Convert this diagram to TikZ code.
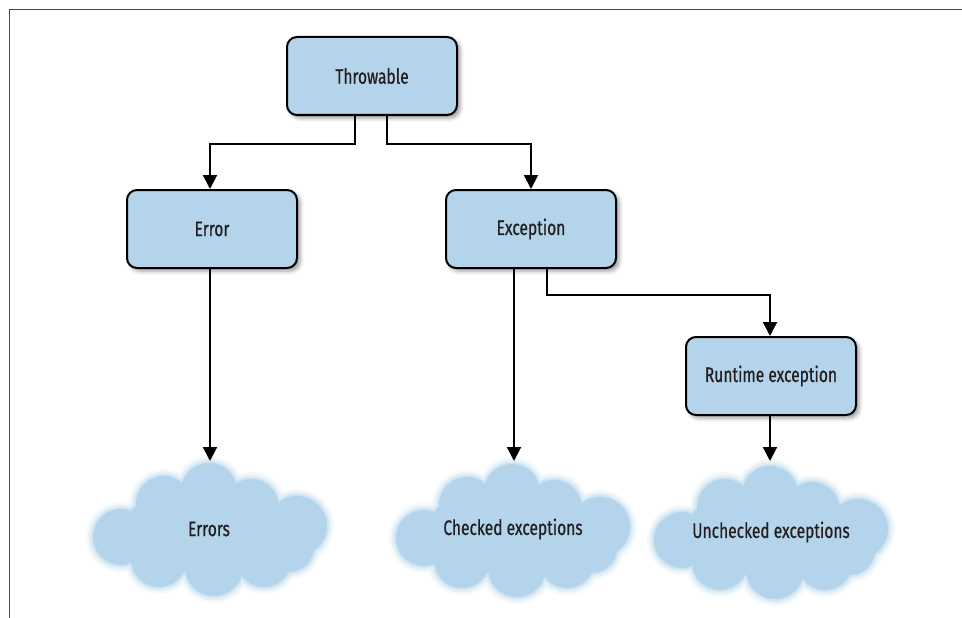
\documentclass[tikz,border=0pt]{standalone}
\usepackage{fontspec}
\setmainfont{Fira Sans}[FakeStretch=0.74, FakeBold=0.6]
\usetikzlibrary{arrows.meta,shadows.blur}

\definecolor{boxblue}{HTML}{B3D4EA}
\definecolor{inkdark}{HTML}{231F20}
\definecolor{framegray}{HTML}{4A4A4A}

% Cloud outline built from overlapping discs, centred on the current origin
\newcommand\cloudblobs{%
  (0,-38) circle (28)
  (-45,-25) circle (28)
  (42,-22) circle (28)
  (-88,8) circle (28)
  (88,-3) circle (30)
  (80,18) circle (25)
  (-50,30) circle (28)
  (5,38) circle (29)
  (55,30) circle (28)
  (0,0) ellipse (85 and 45)}

% Soft-edged cloud: faint halos, then the solid body
\newcommand\softcloud[1]{%
  \begin{scope}[shift={(#1)}]
    \foreach \w/\o in {14/0.15, 9/0.25, 4/0.4}{
      \begin{scope}[transparency group, opacity=\o]
        \filldraw[boxblue, line width=\w pt] \cloudblobs;
      \end{scope}
    }
    \fill[boxblue] \cloudblobs;
  \end{scope}}

\tikzset{
  box/.style={draw=black, line width=2pt, fill=boxblue, rounded corners=10pt,
    minimum width=170pt, minimum height=78pt, text=inkdark,
    font=\fontsize{21}{24}\selectfont,
    blur shadow={shadow xshift=3pt, shadow yshift=-3pt, shadow blur radius=4pt}},
  cloudtext/.style={text=inkdark, font=\fontsize{21}{24}\selectfont},
  link/.style={line width=2pt, draw=black},
  arrowlink/.style={link, -{Triangle[length=14pt,width=14pt]}}
}

\begin{document}
\begin{tikzpicture}[x=1pt, y=-1pt]
  \useasboundingbox (0,0) rectangle (962,618);

  % page frame
  \draw[framegray, line width=1.5pt] (962,9.5) -- (9.5,9.5) -- (9.5,618);

  % clouds
  \softcloud{209,529}
  \softcloud{512,530}
  \softcloud{770,532}
  \node[cloudtext] (errors) at (209,529) {Errors};
  \node[cloudtext] (checked) at (513,529) {Checked exceptions};
  \node[cloudtext] (unchecked) at (771,532) {Unchecked exceptions};
  \coordinate (errorsTop) at (210,461);
  \coordinate (checkedTop) at (514,461);
  \coordinate (uncheckedTop) at (770,461);

  % boxes
  \node[box] (throwable) at (372,76) {Throwable};
  \node[box] (error) at (212,229) {Error};
  \node[box] (exception) at (531,229) {Exception};
  \node[box] (runtime) at (771,376) {Runtime exception};

  % connectors
  \draw[arrowlink] ([xshift=-17pt]throwable.south) -- ++(0,28) -| ([xshift=-2pt]error.north);
  \draw[arrowlink] ([xshift=15pt]throwable.south) -- ++(0,28) -| (exception.north);
  \draw[arrowlink] ([xshift=-2pt]error.south) -- (errorsTop);
  \draw[arrowlink] ([xshift=-17pt]exception.south) -- (checkedTop);
  \draw[arrowlink] ([xshift=16pt]exception.south) -- ++(0,26) -| ([xshift=-1pt]runtime.north);
  \draw[arrowlink] ([xshift=-1pt]runtime.south) -- (uncheckedTop);
\end{tikzpicture}
\end{document}
